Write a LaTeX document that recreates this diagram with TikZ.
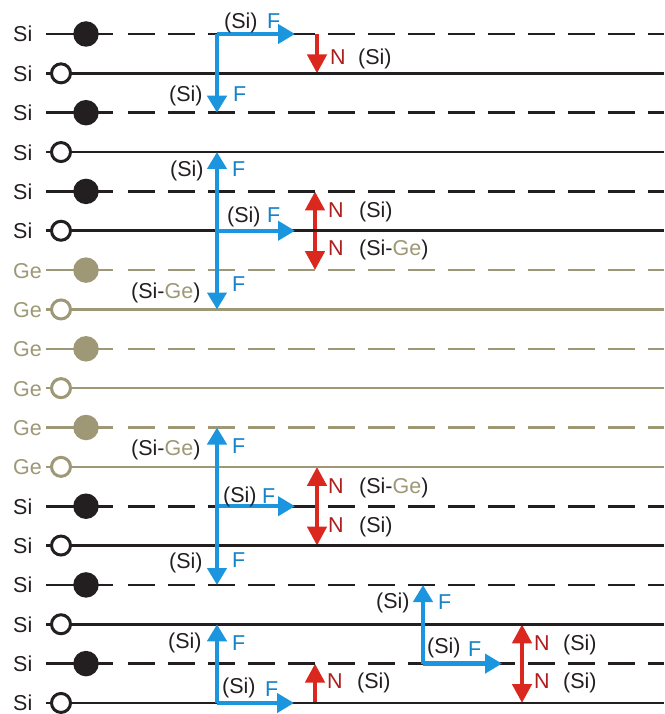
\documentclass[tikz,border=0pt]{standalone}
\usepackage{fontspec}
\setmainfont{Liberation Sans}
\usetikzlibrary{arrows.meta}

\definecolor{siblack}{RGB}{35,31,32}
\definecolor{geolive}{RGB}{158,152,118}
\definecolor{forceblue}{RGB}{27,150,222}
\definecolor{normalred}{RGB}{218,40,30}
\definecolor{ntext}{RGB}{175,30,30}
\definecolor{ftext}{RGB}{22,130,200}

\tikzset{
  lbl/.style={anchor=base west, inner sep=0pt, font=\fontsize{21.5}{25}\selectfont, text=siblack},
  flbl/.style={lbl, text=ftext},
  nlbl/.style={lbl, text=ntext},
  bond/.style={line width=2.6pt},
  dashbond/.style={bond, dash pattern=on 27pt off 13pt},
  force/.style={line width=4.5pt, draw=forceblue, -{Triangle[length=17pt,width=19pt]}},
  normal/.style={line width=4.5pt, draw=normalred, -{Triangle[length=19pt,width=19pt]}},
  filledatom/.style={circle, minimum size=25.5pt, inner sep=0pt},
  openatom/.style={circle, minimum size=19pt, inner sep=0pt, line width=3pt, fill=white},
}
\newcommand{\GeTxt}{\textcolor{geolive}{Ge}}

\begin{document}
\begin{tikzpicture}[x=1pt,y=-1pt]
\useasboundingbox[fill=white] (0,0) rectangle (664,714);

% normal-force arrows sit under the atomic planes
\coordinate (n1a) at (317,34);    \coordinate (n1b) at (317,73.4);
\coordinate (n2c) at (315,230.75); \coordinate (n2a) at (315,191.4); \coordinate (n2b) at (315,270.1);
\coordinate (n3c) at (317,506.2);  \coordinate (n3a) at (317,466.9); \coordinate (n3b) at (317,545.6);
\coordinate (n4a) at (315,703);   \coordinate (n4b) at (315,663.6);
\coordinate (n5c) at (522,663.6);  \coordinate (n5a) at (522,624.3); \coordinate (n5b) at (522,703);

\draw[normal] (n1a) -- (n1b);
\draw[normal] (n2c) -- (n2a);
\draw[normal] (n2c) -- (n2b);
\draw[normal] ([yshift=-1.2pt]n3c) -- (n3a);
\draw[normal] ([yshift=1.2pt]n3c) -- (n3b);
\draw[normal] (n4a) -- (n4b);
\draw[normal] ([yshift=-1.2pt]n5c) -- (n5a);
\draw[normal] ([yshift=1.2pt]n5c) -- (n5b);

% atomic planes: even rows filled atoms with dashed bonds, odd rows open atoms
\foreach \i in {0,...,17}{
  \pgfmathsetmacro{\yy}{34+39.35*\i}
  \pgfmathtruncatemacro{\isge}{(\i>5)&&(\i<12)}
  \pgfmathtruncatemacro{\isodd}{mod(\i,2)}
  \ifnum\isge=1
    \def\elcol{geolive}\def\elname{Ge}
  \else
    \def\elcol{siblack}\def\elname{Si}
  \fi
  \node[lbl, text=\elcol] (el\i) at (13,\yy+8) {\elname};
  \ifnum\isodd=0
    \draw[bond, draw=\elcol] (46,\yy) -- (113,\yy);
    \draw[dashbond, draw=\elcol] (128,\yy) -- (664,\yy);
    \node[filledatom, fill=\elcol] (atom\i) at (86,\yy) {};
  \else
    \draw[bond, draw=\elcol] (46,\yy) -- (664,\yy);
    \node[openatom, draw=\elcol] (atom\i) at (61,\yy) {};
  \fi
}

% force arrows
\coordinate (f1o) at (217,34);     \coordinate (f1d) at (217,112.7); \coordinate (f1r) at (295,34);
\coordinate (f2o) at (217,230.75); \coordinate (f2u) at (217,152);   \coordinate (f2d) at (217,309.5); \coordinate (f2r) at (295,230.75);
\coordinate (f3o) at (217,506.2);  \coordinate (f3u) at (217,427.5); \coordinate (f3d) at (217,585);   \coordinate (f3r) at (295,506.2);
\coordinate (f4o) at (217,703);    \coordinate (f4u) at (217,624.3); \coordinate (f4r) at (294,703);
\coordinate (f5o) at (423,663.6);  \coordinate (f5u) at (423,585);   \coordinate (f5r) at (502,663.6);

\draw[force] (f1o) -- (f1d);
\draw[force] (f1o) -- (f1r);
\draw[force] (f2o) -- (f2u);
\draw[force] (f2o) -- (f2d);
\draw[force] (f2o) -- (f2r);
\draw[force] (f3o) -- (f3u);
\draw[force] (f3o) -- (f3d);
\draw[force] (f3o) -- (f3r);
\draw[force] (f4o) -- (f4u);
\draw[force] (f4o) -- (f4r);
\draw[force] (f5o) -- (f5u);
\draw[force] (f5o) -- (f5r);

% labels, group 1
\node[lbl]  (t1a) at (224,29) {(Si)};
\node[flbl] (t1b) at (267,29) {F};
\node[lbl]  (t1c) at (169,102) {(Si)};
\node[flbl] (t1d) at (233,102) {F};
\node[nlbl] (t1e) at (330,65) {N};
\node[lbl]  (t1f) at (358,65) {(Si)};

% labels, group 2
\node[lbl]  (t2a) at (170,177) {(Si)};
\node[flbl] (t2b) at (232,177) {F};
\node[lbl]  (t2c) at (227,222) {(Si)};
\node[flbl] (t2d) at (267,222) {F};
\node[lbl]  (t2e) at (131,298) {(Si-\GeTxt)};
\node[flbl] (t2f) at (232,291) {F};
\node[nlbl] (t2g) at (328,217) {N};
\node[lbl]  (t2h) at (359,217) {(Si)};
\node[nlbl] (t2i) at (328,255) {N};
\node[lbl]  (t2j) at (359,255) {(Si-\GeTxt)};

% labels, group 3
\node[lbl]  (t3a) at (131,455) {(Si-\GeTxt)};
\node[flbl] (t3b) at (232,453) {F};
\node[lbl]  (t3c) at (223,502) {(Si)};
\node[flbl] (t3d) at (262,503) {F};
\node[lbl]  (t3e) at (169,568) {(Si)};
\node[flbl] (t3f) at (232,567) {F};
\node[nlbl] (t3g) at (328,493) {N};
\node[lbl]  (t3h) at (359,493) {(Si-\GeTxt)};
\node[nlbl] (t3i) at (328,532) {N};
\node[lbl]  (t3j) at (359,532) {(Si)};

% labels, group 4
\node[lbl]  (t4a) at (168,648) {(Si)};
\node[flbl] (t4b) at (232,650) {F};
\node[lbl]  (t4c) at (222,693) {(Si)};
\node[flbl] (t4d) at (265,696) {F};
\node[nlbl] (t4e) at (327,688) {N};
\node[lbl]  (t4f) at (357,688) {(Si)};

% labels, group 5
\node[lbl]  (t5a) at (376,608) {(Si)};
\node[flbl] (t5b) at (438,609) {F};
\node[lbl]  (t5c) at (427,653) {(Si)};
\node[flbl] (t5d) at (468,656) {F};
\node[nlbl] (t5e) at (534,650) {N};
\node[lbl]  (t5f) at (563,650) {(Si)};
\node[nlbl] (t5g) at (534,688) {N};
\node[lbl]  (t5h) at (563,688) {(Si)};
\end{tikzpicture}
\end{document}
